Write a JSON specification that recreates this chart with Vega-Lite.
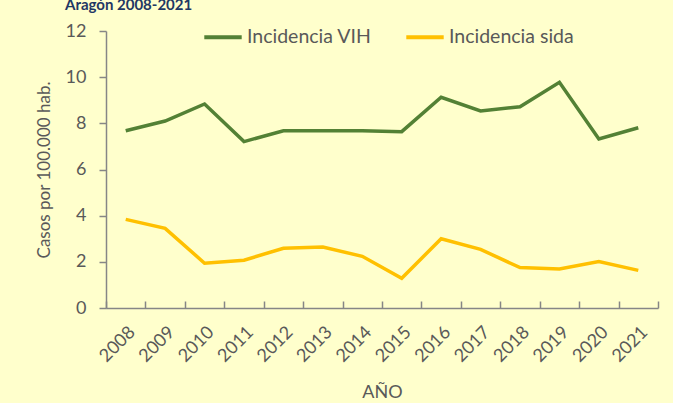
{
  "$schema": "https://vega.github.io/schema/vega-lite/v6.json",
  "width": 552,
  "height": 277,
  "autosize": {"type": "none"},
  "padding": {"left": 106, "top": 31, "right": 15, "bottom": 95},
  "background": "#FFFFCC",
  "title": {
    "text": "Aragón 2008-2021",
    "anchor": "start",
    "frame": "group",
    "dx": -41,
    "offset": -9,
    "baseline": "alphabetic",
    "fontSize": 15,
    "fontWeight": "bold",
    "color": "#1F3864",
    "font": "Lato"
  },
  "config": {
    "view": {"stroke": null},
    "font": "Lato",
    "axis": {"labelFont": "Lato", "titleFont": "Lato", "labelColor": "#595959", "titleColor": "#595959", "domainColor": "#868686", "tickColor": "#868686", "grid": false}
  },
  "data": {
    "values": [
      {"year": "2008", "serie": "Incidencia VIH", "v": 7.68},
      {"year": "2009", "serie": "Incidencia VIH", "v": 8.10},
      {"year": "2010", "serie": "Incidencia VIH", "v": 8.84},
      {"year": "2011", "serie": "Incidencia VIH", "v": 7.21},
      {"year": "2012", "serie": "Incidencia VIH", "v": 7.68},
      {"year": "2013", "serie": "Incidencia VIH", "v": 7.68},
      {"year": "2014", "serie": "Incidencia VIH", "v": 7.68},
      {"year": "2015", "serie": "Incidencia VIH", "v": 7.64},
      {"year": "2016", "serie": "Incidencia VIH", "v": 9.13},
      {"year": "2017", "serie": "Incidencia VIH", "v": 8.54},
      {"year": "2018", "serie": "Incidencia VIH", "v": 8.72},
      {"year": "2019", "serie": "Incidencia VIH", "v": 9.78},
      {"year": "2020", "serie": "Incidencia VIH", "v": 7.32},
      {"year": "2021", "serie": "Incidencia VIH", "v": 7.81},
      {"year": "2008", "serie": "Incidencia sida", "v": 3.84},
      {"year": "2009", "serie": "Incidencia sida", "v": 3.45},
      {"year": "2010", "serie": "Incidencia sida", "v": 1.94},
      {"year": "2011", "serie": "Incidencia sida", "v": 2.07},
      {"year": "2012", "serie": "Incidencia sida", "v": 2.59},
      {"year": "2013", "serie": "Incidencia sida", "v": 2.64},
      {"year": "2014", "serie": "Incidencia sida", "v": 2.24},
      {"year": "2015", "serie": "Incidencia sida", "v": 1.29},
      {"year": "2016", "serie": "Incidencia sida", "v": 3.00},
      {"year": "2017", "serie": "Incidencia sida", "v": 2.54},
      {"year": "2018", "serie": "Incidencia sida", "v": 1.75},
      {"year": "2019", "serie": "Incidencia sida", "v": 1.69},
      {"year": "2020", "serie": "Incidencia sida", "v": 2.01},
      {"year": "2021", "serie": "Incidencia sida", "v": 1.63}
    ]
  },
  "mark": {"type": "line", "strokeWidth": 3.5, "strokeJoin": "miter"},
  "encoding": {
    "x": {
      "field": "year", "type": "ordinal",
      "scale": {"paddingInner": 0, "paddingOuter": 0},
      "axis": {
        "title": "AÑO", "titleFontSize": 18, "titleFontWeight": "normal", "titlePadding": 18,
        "labelAngle": -45, "labelFontSize": 18, "labelPadding": 22,
        "tickBand": "extent", "tickSize": -7, "domainWidth": 1.5, "tickWidth": 1.5
      }
    },
    "y": {
      "field": "v", "type": "quantitative",
      "scale": {"domain": [0, 12], "nice": false},
      "axis": {
        "title": "Casos por 100.000 hab.", "titleFontSize": 17, "titleFontWeight": "normal", "titlePadding": 12,
        "values": [0, 2, 4, 6, 8, 10, 12], "labelFontSize": 18, "labelPadding": 13,
        "tickSize": 7, "domainWidth": 1.5, "tickWidth": 1.5
      }
    },
    "color": {
      "field": "serie", "type": "nominal",
      "scale": {"domain": ["Incidencia VIH", "Incidencia sida"], "range": ["#538135", "#FFC000"]},
      "legend": {
        "title": null, "orient": "none", "direction": "horizontal", "legendX": 96, "legendY": -15,
        "symbolType": "stroke", "symbolSize": 1400, "symbolStrokeWidth": 4,
        "labelFontSize": 19.5, "labelColor": "#595959", "labelFont": "Lato", "labelOffset": 3, "columnPadding": 26
      }
    }
  }
}
